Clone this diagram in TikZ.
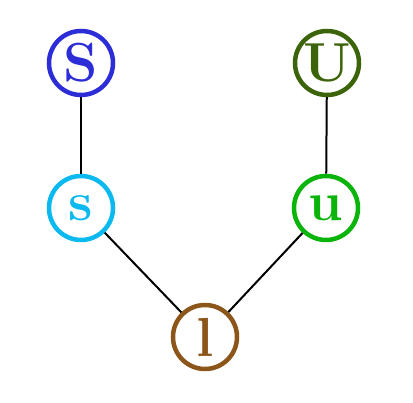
\documentclass[tikz,border=0pt]{standalone}
\usepackage{tikz}
\definecolor{cS}{RGB}{45,45,215}
\definecolor{cU}{RGB}{60,100,10}
\definecolor{cs}{RGB}{10,185,240}
\definecolor{cu}{RGB}{10,180,10}
\definecolor{cl}{RGB}{140,85,25}
\tikzset{
  vert/.style={circle, draw=#1, text=#1, line width=4.5pt, minimum size=64pt, inner sep=0pt,
    font=\fontsize{55}{64}\selectfont\bfseries},
  edge/.style={draw=black, line width=2pt}
}
\begin{document}
\begin{tikzpicture}[x=1pt,y=1pt]
\useasboundingbox (0,0) rectangle (413,403);
\node[vert=cS] (S) at (81,340) {S};
\node[vert=cU] (U) at (327,340) {U};
\node[vert=cs] (s) at (81,195) {s};
\node[vert=cu] (u) at (326,195) {u};
\node[vert=cl] (l) at (205,66) {l};
\draw[edge] (S) -- (s);
\draw[edge] (U) -- (u);
\draw[edge] (s) -- (l);
\draw[edge] (u) -- (l);
\end{tikzpicture}
\end{document}
